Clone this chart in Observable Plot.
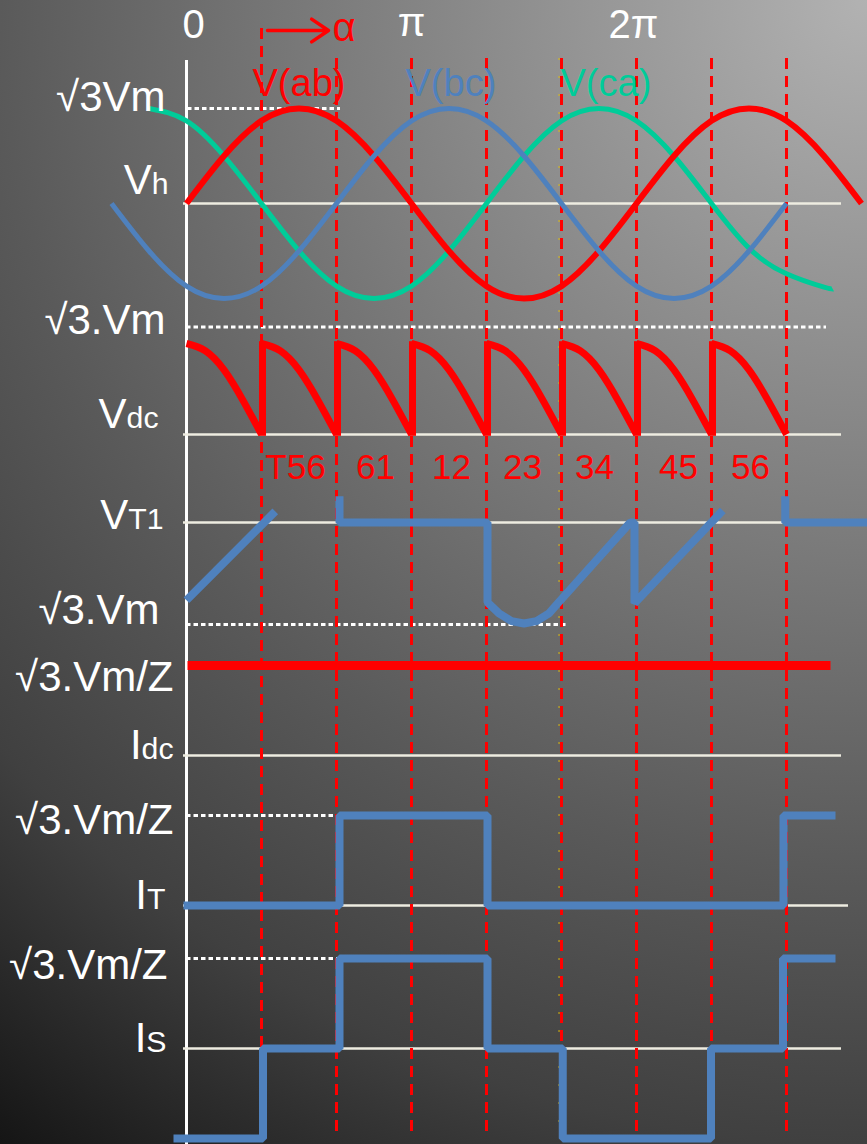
<!DOCTYPE html>
<html><head><meta charset="utf-8">
<script src="https://cdn.jsdelivr.net/npm/d3@7"></script>
<script src="https://cdn.jsdelivr.net/npm/@observablehq/plot@0.6"></script>
<style>html,body{margin:0;padding:0;background:#151515;overflow:hidden}</style>
</head><body><div id="chart"></div>
<script>
// ---------------- data (angles in degrees, values normalised) ----------------
const vabAngles = [0,30,60,90,120,150,180,210,240,270,300,330,360,390,420,450,480,510,540];
const vabValues = [0,0.5,0.87,1,0.87,0.5,0,-0.5,-0.87,-1,-0.87,-0.5,0,0.5,0.87,1,0.87,0.5,0];
const vbcAngles = [-60,-30,0,30,60,90,120,150,180,210,240,270,300,330,360,390,420,450,480];
const vbcValues = [0,-0.5,-0.87,-1,-0.87,-0.5,0,0.5,0.87,1,0.87,0.5,0,-0.5,-0.87,-1,-0.87,-0.5,0];
const vcaAngles = [-30,0,30,60,90,120,150,180,210,240,270,300,330,360,390,420,450,480,510,517];
const vcaValues = [1,0.87,0.5,0,-0.5,-0.87,-1,-0.87,-0.5,0,0.5,0.87,1,0.87,0.5,0,-0.47,-0.74,-0.88,-0.9];

const commutationAngles = [60,120,180,240,300,360,420,480];
const vdcStarts = [0,60,120,180,240,300,360,420];
const vdcShapeOffsets = [0,15,30,45,60];
const vdcShapeValues = [1,0.92,0.71,0.38,0];
const vdcRisers = [60,120,180,240,300,360,420];

const vt1Seg    = [0,0, 1,1,1,1,1,1,1,1,1,1,1,1,1,1, 2,2,2];
const vt1Angles = [0,71, 122.4,122.4,240.8,240.8,250,260,270,280,290,297,355,358.4,358.4,429, 479,479,545];
const vt1Values = [-0.77,0.11, 0.26,0,0,-0.79,-0.9,-0.976,-1,-0.976,-0.9,-0.8,0,0,-0.8,0.12, 0.26,0,0];

const idcAngles = [0.8,515.2];
const idcValues = [1,1];
const itAngles = [-2.4,122.4,122.4,240.8,240.8,477.6,477.6,519.2];
const itValues = [0,0,1,1,0,0,1,1];
const isAngles = [-10.4,61.2,61.2,122.4,122.4,240.8,240.8,301,301,419.6,419.6,477.2,477.2,519.2];
const isValues = [-1,-1,0,0,1,1,0,0,-1,-1,0,0,1,1];

const axisLabels = ["√3Vm","V_h","√3.Vm","V_dc","V_T1","√3.Vm","√3.Vm/Z","I_dc","√3.Vm/Z","I_T","√3.Vm/Z","I_S"];
const angleLabels = ["0","π","2π"];
const legendLabels = ["V(ab)","V(bc)","V(ca)"];
const thyristorLabels = ["T56","61","12","23","34","45","56"];

// ---------------- layout ----------------
const W = 867, H = 1144, X0 = 186, PXDEG = 1.25;
const px = p => (p - X0) / PXDEG;           // pixel column -> degrees
const P = {
  vline: {base: 203, amp: 95},
  vdc:   {base: 434, amp: 91},
  vt1:   {base: 522, amp: 101},
  idc:   {base: 755, amp: 90},
  it:    {base: 905, amp: 90},
  is:    {base: 1048, amp: 90}
};
const Y = (panel, v) => P[panel].base - P[panel].amp * v;

const RED = "#FF0000", BLUE = "#4F81BD", GREEN = "#00CC99", CREAM = "#EEECE1";

const series = (angles, values, panel, seg) =>
  angles.map((a, i) => ({a, y: Y(panel, values[i]), seg: seg ? seg[i] : 0}));

const vab = series(vabAngles, vabValues, "vline");
const vbc = series(vbcAngles, vbcValues, "vline");
const vca = series(vcaAngles, vcaValues, "vline");
const vdc = vdcStarts.flatMap((s, k) => vdcShapeOffsets.map((o, i) => ({a: s + o, y: Y("vdc", vdcShapeValues[i]), seg: k})));
const vt1 = series(vt1Angles, vt1Values, "vt1", vt1Seg);
const idc = series(idcAngles, idcValues, "idc");
const it = series(itAngles, itValues, "it");
const is = series(isAngles, isValues, "is");

const baselines = [
  {panel: "vline", from: px(183), to: px(841)},
  {panel: "vdc", from: px(183), to: px(841)},
  {panel: "vt1", from: px(183), to: px(841)},
  {panel: "idc", from: px(183), to: px(841)},
  {panel: "it", from: px(183), to: px(848)},
  {panel: "is", from: px(183), to: px(841)}
];
const dotted = [
  {panel: "vline", value: 1, from: px(187), to: px(340)},
  {panel: "vdc", value: 1.18, from: px(186), to: px(826)},
  {panel: "vt1", value: -1.01, from: px(186), to: px(568)},
  {panel: "it", value: 1, from: px(186), to: px(340)},
  {panel: "is", value: 1, from: px(186), to: px(340)}
];

const axisLabelRows = axisLabels.map((t, i) => ({t,
  x: px([165,168,165,158,163,159,173,173,173,165,167,166][i]),
  y: [110,193,333,427,528,623,690,758,833,908,978,1051][i]}));
const angleLabelRows = angleLabels.map((t, i) => ({t, x: px([193,411,633][i]), y: [37,35,37][i]}));
const legendRows = legendLabels.map((t, i) => ({t, x: px([252,405,560][i]), y: 95, c: [RED, BLUE, GREEN][i]}));
const thyRows = thyristorLabels.map((t, i) => ({t, x: px([295,375,451,522,594,678,750][i]), y: 478}));

const FONT = "'Liberation Sans', Arial, Helvetica, sans-serif";
const lineOpts = (stroke, sw, extra = {}) => ({x: "a", y: "y", z: "seg", stroke, strokeWidth: sw,
  strokeLinecap: "butt", strokeLinejoin: "miter", ...extra});

const chart = Plot.plot({
  width: W, height: H, margin: 0,
  x: {domain: [px(0), px(W)], range: [0, W], axis: null},
  y: {domain: [0, H], range: [0, H], axis: null},
  style: {
    fontFamily: FONT,
    background: "radial-gradient(circle farthest-corner at 100% 0%, #b2b2b2 0px, #5a5a5a 867px, #404040 1144px, #151515 1435px)"
  },
  marks: [
    Plot.ruleX([0], {y1: 60, y2: H, stroke: "white", strokeWidth: 3}),
    Plot.ruleY(baselines, {y: d => P[d.panel].base, x1: "from", x2: "to", stroke: CREAM, strokeWidth: 2.5}),
    Plot.ruleY(dotted, {y: d => Y(d.panel, d.value), x1: "from", x2: "to", stroke: "white", strokeWidth: 3, strokeDasharray: "4.5,3"}),
    Plot.ruleX([299], {y1: 58, y2: 1134, stroke: "#E8C200", strokeWidth: 1.5, strokeOpacity: 0.6, strokeDasharray: "2,16", dx: -1.2}),
    Plot.ruleX(commutationAngles, {y1: d => d === 60 ? 28 : 58, y2: 1134, stroke: RED, strokeWidth: 3, strokeDasharray: "11,7"}),
    Plot.line(vca, lineOpts(GREEN, 5, {curve: "natural"})),
    Plot.line(vab, lineOpts(RED, 6, {curve: "natural"})),
    Plot.line(vbc, lineOpts(BLUE, 5, {curve: "natural"})),
    Plot.line(vdc, lineOpts(RED, 7, {curve: "natural"})),
    Plot.ruleX(vdcRisers, {y1: Y("vdc", -0.02), y2: Y("vdc", 1.02), stroke: RED, strokeWidth: 7, dx: 1}),
    Plot.line(vt1, lineOpts(BLUE, 8)),
    Plot.line(idc, lineOpts(RED, 9)),
    Plot.line(it, lineOpts(BLUE, 8)),
    Plot.line(is, lineOpts(BLUE, 8)),
    Plot.arrow([{x1: px(267), x2: px(328), y: 30}], {x1: "x1", x2: "x2", y1: "y", y2: "y", stroke: RED, strokeWidth: 3.5, headLength: 10, headAngle: 68}),
    Plot.text(axisLabelRows, {x: "x", y: "y", text: "t", fill: "white", fontSize: 42, fontFamily: FONT, textAnchor: "end", lineAnchor: "bottom"}),
    Plot.text(angleLabelRows, {x: "x", y: "y", text: "t", fill: "white", fontSize: 40, fontFamily: FONT, textAnchor: "middle", lineAnchor: "bottom"}),
    Plot.text([{t: "α", x: px(332), y: 40}], {x: "x", y: "y", text: "t", fill: RED, fontSize: 40, fontFamily: FONT, textAnchor: "start", lineAnchor: "bottom"}),
    Plot.text(legendRows, {x: "x", y: "y", text: "t", fill: "c", fontSize: 38, fontFamily: FONT, textAnchor: "start", lineAnchor: "bottom"}),
    Plot.text(thyRows, {x: "x", y: "y", text: "t", fill: RED, fontSize: 35, fontFamily: FONT, textAnchor: "middle", lineAnchor: "bottom"})
  ]
});

// subscripts: "V_dc" -> V + smaller "dc" on the same baseline
d3.select(chart).selectAll("text").each(function () {
  const t = this.textContent;
  if (!t.includes("_")) return;
  const [main, sub] = t.split("_");
  this.textContent = "";
  d3.select(this).append("tspan").text(main);
  d3.select(this).append("tspan").attr("font-size", "0.72em").text(sub);
});

document.getElementById("chart").appendChild(chart);
</script>
</body></html>
